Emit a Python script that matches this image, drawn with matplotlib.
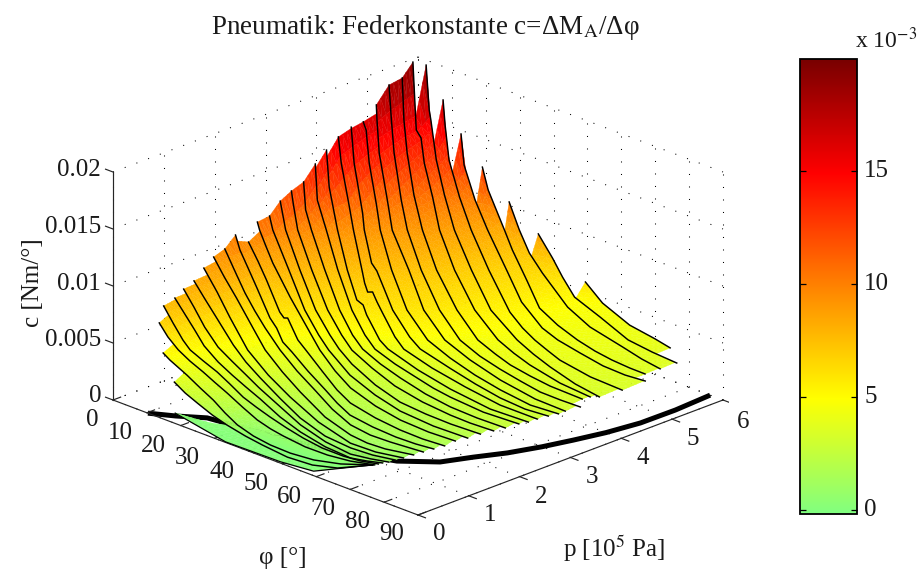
import numpy as np, matplotlib
matplotlib.use('Agg')
import matplotlib.pyplot as plt
from matplotlib.colors import LinearSegmentedColormap, Normalize
from matplotlib.cm import ScalarMappable
from mpl_toolkits.mplot3d import proj3d
from mpl_toolkits.mplot3d.art3d import Poly3DCollection
plt.rcParams['font.family']=['Liberation Serif','DejaVu Serif']
plt.rcParams['mathtext.fontset']='stix'

# measured curves: phi [deg], p [1e5 Pa], c [1e-3 Nm/deg]
phi_01=[18.1,21.3,24.9,29.0,32.3,36.2,39.9,48.3,55.1,60.0,66.9]
p_01=[0.00,0.00,0.00,0.02,0.09,0.19,0.28,0.21,0.25,0.42,0.65]
c_01=[3.60,3.00,2.52,1.90,1.27,0.58,0.05,0.05,0.05,0.05,0.71]
phi_02=[11.8,14.1,18.8,22.9,26.6,30.1,33.4,37.1,41.5,47.2,53.4,59.7,66.9]
p_02=[0.20,0.18,0.20,0.19,0.20,0.20,0.22,0.29,0.33,0.34,0.39,0.50,0.65]
c_02=[5.11,4.78,3.96,3.30,2.64,1.89,1.19,0.51,0.15,0.06,0.07,0.24,0.71]
phi_03=[6.9,10.2,13.1,16.4,20.0,23.4,26.9,31.0,34.8,38.7,42.6,49.1,55.2,61.3,67.3]
p_03=[0.45,0.40,0.41,0.42,0.44,0.44,0.45,0.48,0.52,0.52,0.51,0.51,0.54,0.58,0.66]
c_03=[6.78,6.00,5.18,4.55,3.96,3.44,2.88,2.05,1.27,0.93,0.76,0.53,0.45,0.54,0.74]
phi_04=[4.9,8.7,12.1,14.2,17.8,21.6,25.5,29.4,32.5,36.5,41.6,47.0,52.7,58.7,63.5,67.8]
p_04=[0.67,0.60,0.57,0.57,0.59,0.61,0.60,0.60,0.65,0.66,0.64,0.61,0.60,0.62,0.64,0.70]
c_04=[7.67,6.73,5.65,5.03,4.43,3.85,3.25,2.54,1.93,1.48,1.14,0.90,0.69,0.61,0.69,0.81]
phi_05=[4.6,8.3,11.5,14.9,19.6,23.9,28.0,31.6,38.2,45.1,53.1,60.6,64.7,68.3]
p_05=[0.91,0.86,0.84,0.80,0.76,0.75,0.75,0.79,0.74,0.68,0.64,0.63,0.68,0.75]
c_05=[7.93,7.02,6.02,5.07,4.26,3.61,3.01,2.30,1.55,1.11,0.76,0.65,0.76,0.87]
phi_06=[3.6,7.8,11.9,16.6,21.0,25.5,29.4,36.2,43.5,52.1,59.7,64.9,69.2]
p_06=[1.15,1.07,1.01,0.96,0.94,0.92,0.91,0.88,0.79,0.71,0.69,0.74,0.81]
c_06=[8.20,7.24,6.03,4.89,4.18,3.50,2.85,1.97,1.36,0.97,0.79,0.87,0.95]
phi_07=[2.9,7.3,11.4,17.8,22.7,27.7,34.6,41.9,50.6,58.3,64.3,69.9]
p_07=[1.40,1.32,1.28,1.18,1.10,1.05,0.99,0.89,0.80,0.79,0.82,0.90]
c_07=[8.42,7.47,6.32,4.84,4.03,3.28,2.31,1.62,1.16,1.00,1.00,1.05]
phi_08=[1.3,7.0,12.4,20.4,28.1,35.6,45.9,57.0,64.0,70.7]
p_08=[1.70,1.58,1.47,1.29,1.18,1.11,0.98,0.87,0.90,1.00]
c_08=[8.86,7.61,6.19,4.50,3.36,2.39,1.57,1.14,1.10,1.16]
phi_09=[0.3,4.8,9.6,17.5,22.4,29.3,35.9,45.8,54.8,60.0,64.9,71.6]
p_09=[1.96,1.87,1.79,1.63,1.50,1.38,1.29,1.12,1.02,1.00,1.03,1.14]
c_09=[9.28,8.18,7.01,5.19,4.38,3.42,2.56,1.75,1.36,1.27,1.25,1.29]
phi_10=[0.3,4.6,9.4,13.5,17.9,24.4,30.9,37.5,44.9,52.1,58.4,63.8,72.5]
p_10=[2.18,2.09,1.97,1.89,1.80,1.66,1.56,1.47,1.32,1.20,1.17,1.20,1.27]
c_10=[9.62,8.32,7.13,6.15,5.30,4.33,3.39,2.61,2.01,1.64,1.50,1.45,1.43]
phi_11=[0.3,1.3,5.2,9.2,16.6,19.5,23.1,26.4,32.3,39.0,44.1,49.4,56.5,63.3,68.8,73.5]
p_11=[2.39,2.41,2.31,2.21,1.98,1.92,1.80,1.76,1.68,1.58,1.47,1.37,1.34,1.34,1.37,1.41]
c_11=[10.49,9.26,8.28,7.23,5.74,5.26,4.65,4.21,3.34,2.59,2.20,1.91,1.72,1.60,1.55,1.57]
phi_12=[0.7,4.8,9.0,16.8,18.5,19.0,24.7,28.4,34.1,40.6,46.2,54.5,62.1,68.5,74.6]
p_12=[2.62,2.53,2.42,2.16,2.13,2.17,1.99,1.93,1.84,1.70,1.59,1.53,1.51,1.52,1.55]
c_12=[9.53,8.48,7.46,5.97,5.69,5.67,4.69,4.15,3.27,2.58,2.24,1.96,1.79,1.71,1.73]
phi_13=[0.3,0.5,3.1,6.8,15.2,23.3,29.7,35.7,42.2,51.2,59.3,67.6,75.2]
p_13=[2.82,2.85,2.80,2.69,2.47,2.26,2.09,1.99,1.86,1.75,1.70,1.70,1.72]
c_13=[10.90,10.18,9.15,8.26,6.59,5.22,4.19,3.20,2.66,2.27,2.03,1.91,1.94]
phi_14=[0.3,1.1,9.9,19.7,26.5,30.8,38.7,48.1,56.7,66.8,76.6]
p_14=[3.06,3.07,2.80,2.46,2.28,2.19,2.08,1.95,1.87,1.85,1.87]
c_14=[11.03,9.88,7.81,5.96,4.84,4.15,3.03,2.55,2.24,2.09,2.10]
phi_15=[0.3,2.5,11.2,21.1,28.0,31.9,36.9,45.3,54.1,61.8,69.3,77.8]
p_15=[3.27,3.23,2.93,2.58,2.40,2.32,2.24,2.14,2.04,2.03,2.02,2.04]
c_15=[11.98,9.76,7.74,5.92,4.81,4.16,3.52,2.80,2.45,2.29,2.27,2.30]
phi_16=[0.3,0.9,3.8,12.6,22.7,29.7,34.2,40.9,48.7,57.7,66.7,72.7,79.3]
p_16=[3.49,3.49,3.38,3.07,2.71,2.52,2.42,2.37,2.30,2.24,2.19,2.18,2.20]
c_16=[12.50,11.34,9.66,7.66,5.88,4.78,4.14,3.40,2.82,2.53,2.47,2.46,2.48]
phi_17=[0.3,2.4,5.3,14.2,24.3,31.4,35.7,41.4,47.3,55.9,64.3,72.5,80.5]
p_17=[3.73,3.63,3.55,3.22,2.84,2.62,2.53,2.50,2.50,2.42,2.35,2.33,2.35]
c_17=[12.89,10.84,9.54,7.59,5.83,4.81,4.22,3.60,3.03,2.73,2.65,2.63,2.62]
phi_18=[0.3,3.0,7.0,15.8,26.1,33.4,37.7,43.8,50.0,55.6,61.4,71.9,81.5]
p_18=[3.96,3.82,3.73,3.37,2.96,2.73,2.64,2.63,2.65,2.59,2.54,2.49,2.55]
c_18=[14.08,11.45,9.42,7.51,5.84,4.85,4.25,3.64,3.08,2.93,2.87,2.81,2.75]
phi_19=[0.6,3.5,8.2,17.1,24.7,26.7,29.4,36.7,39.7,48.6,59.2,72.3,82.5]
p_19=[4.16,4.02,3.87,3.47,3.15,3.14,3.03,2.80,2.76,2.76,2.69,2.60,2.67]
c_19=[15.00,12.31,9.33,7.48,6.25,6.05,5.66,4.67,4.29,3.44,3.07,2.94,2.82]
phi_20=[1.1,3.3,6.3,10.2,19.6,22.2,24.6,25.3,28.1,31.1,38.5,42.3,50.8,61.5,73.0,83.0]
p_20=[4.36,4.27,4.23,4.05,3.60,3.47,3.37,3.42,3.32,3.22,2.98,2.90,2.89,2.83,2.75,2.81]
c_20=[15.87,13.98,10.53,9.25,7.36,6.92,6.56,6.56,6.17,5.79,4.84,4.33,3.64,3.28,3.11,2.91]
phi_21=[1.0,4.1,8.1,11.6,19.0,21.3,26.6,32.3,40.9,44.9,53.9,62.5,70.9,78.1,83.9]
p_21=[4.62,4.47,4.37,4.17,3.82,3.77,3.57,3.35,3.11,3.05,3.03,2.96,2.89,2.90,2.97]
c_21=[16.28,13.73,9.96,9.20,7.72,7.37,6.63,5.87,4.88,4.38,3.75,3.44,3.27,3.08,3.00]
phi_22=[1.1,2.1,5.1,8.9,13.6,23.1,34.4,44.1,51.5,60.0,68.6,77.7,84.8]
p_22=[4.85,4.84,4.70,4.59,4.35,3.94,3.49,3.25,3.20,3.12,3.05,3.03,3.11]
c_22=[16.37,15.77,13.47,10.39,9.13,7.38,5.88,4.74,4.07,3.67,3.44,3.17,3.06]
phi_23=[0.3,1.7,4.9,9.7,15.2,25.5,36.8,46.3,55.1,65.7,76.6,85.0]
p_23=[5.16,5.08,4.91,4.75,4.48,4.12,3.66,3.44,3.35,3.24,3.20,3.23]
c_23=[17.24,16.21,13.97,10.64,9.07,7.34,5.86,4.67,4.06,3.67,3.29,3.12]
phi_24=[0.3,2.5,6.0,11.1,17.1,27.2,38.6,48.4,55.6,62.4,68.9,75.2,80.7,86.0]
p_24=[5.41,5.31,5.13,4.93,4.65,4.25,3.85,3.60,3.51,3.45,3.42,3.39,3.42,3.46]
c_24=[18.57,15.92,13.71,10.50,9.01,7.30,5.75,4.63,4.18,3.91,3.64,3.43,3.30,3.21]
phi_25=[0.3,3.2,7.0,12.0,19.0,28.9,40.6,50.8,57.3,62.6,68.8,74.8,83.7]
p_25=[5.67,5.51,5.32,5.12,4.82,4.44,4.06,3.79,3.70,3.64,3.62,3.61,3.65]
c_25=[18.75,15.65,13.50,10.72,8.94,7.17,5.62,4.59,4.24,3.98,3.73,3.54,3.33]
phi_26=[0.3,2.6,4.9,6.3,9.8,14.2,20.9,30.9,42.7,53.6,59.6,65.4,75.4,84.1]
p_26=[5.88,5.77,5.64,5.64,5.47,5.34,5.03,4.66,4.27,4.00,3.91,3.84,3.77,3.78]
c_26=[19.79,16.28,14.75,14.21,12.69,10.43,8.80,7.02,5.50,4.56,4.22,3.95,3.59,3.34]
phi_27=[3.6,4.5,5.6,10.8,15.3,22.6,32.7,44.6,56.1,62.5,68.8,77.9,85.3]
p_27=[5.92,5.92,5.88,5.64,5.50,5.21,4.87,4.46,4.21,4.10,4.01,3.90,3.88]
c_27=[19.83,16.00,15.30,12.79,10.46,8.68,6.89,5.39,4.48,4.15,3.88,3.58,3.31]
phi_28=[8.6,9.2,12.3,17.2,24.4,34.7,47.2,53.2,58.5,63.6,68.1,77.7,86.2]
p_28=[5.92,5.92,5.79,5.67,5.42,5.08,4.66,4.51,4.40,4.32,4.25,4.21,4.27]
c_28=[17.33,15.20,12.70,10.20,8.53,6.75,5.17,4.70,4.41,4.17,3.99,3.66,3.35]
phi_29=[13.9,14.8,19.4,26.1,36.8,46.0,55.7,61.5,68.7,75.9,81.8,86.4]
p_29=[5.92,5.92,5.83,5.63,5.29,4.97,4.73,4.65,4.61,4.58,4.62,4.71]
c_29=[14.94,12.32,9.91,8.37,6.63,5.40,4.61,4.34,4.07,3.80,3.59,3.43]
phi_30=[20.2,21.9,27.9,32.8,41.5,49.2,56.8,64.2,70.1,75.2,80.2,84.1]
p_30=[5.92,5.92,5.84,5.67,5.37,5.11,4.96,4.86,4.81,4.80,4.82,4.86]
c_30=[12.74,10.93,8.23,7.30,6.16,4.99,4.60,4.28,4.06,3.87,3.69,3.54]
phi_31=[28.1,31.1,35.7,41.8,52.4,61.7,72.6,78.9,84.5]
p_31=[5.92,5.92,5.81,5.66,5.45,5.27,5.19,5.14,5.13]
c_31=[10.57,8.45,7.13,6.31,4.86,4.46,4.05,3.80,3.58]
phi_32=[36.7,40.9,44.9,50.1,59.8,71.0,78.1,84.9]
p_32=[5.92,5.92,5.85,5.74,5.59,5.40,5.40,5.43]
c_32=[8.73,7.08,5.98,4.99,4.60,4.15,3.88,3.63]
phi_33=[50.6,55.8,66.5,74.3,79.2]
p_33=[5.92,5.91,5.73,5.71,5.68]
c_33=[6.07,4.82,4.39,4.09,3.90]
flap_hi_phi=[15.2,24.3,32.5,46.5,64.6]
flap_hi_p=[.21,.3,.56,.61,.8]
flap_hi_c=[.2,.2,.2,.2,.2]
flap_lo_phi=[15.2,33.2,49.1,57.9,64.6]
flap_lo_p=[.21,0,.02,.087,.8]
flap_lo_c=[.2,.05,.05,.1,.2]
thick_phi=[10.3,15.5,20.9,32,49.3,65.8,72.5,75.5,78.9,81.6,83.6,85.5,86.8,86.9,86.2]
thick_p=[0,.2,.46,.57,.785,1.2,1.6,2.05,2.5,3,3.48,4.0,4.59,5.27,6.0]
z_ticks=[0,.005,.01,.015,.02]
z_labels=['0','0.005','0.01','0.015','0.02']
phi_ticks=[0,10,20,30,40,50,60,70,80,90]
p_ticks=[0,1,2,3,4,5,6]
cbar_ticks=[0,5,10,15]

g=globals()
curves=[tuple(np.array(g[f'{n}_{i:02d}'],float) for n in ('phi','p','c')) for i in range(1,34)]
flap_hi=tuple(np.array(v,float) for v in (flap_hi_phi,flap_hi_p,flap_hi_c))
flap_lo=tuple(np.array(v,float) for v in (flap_lo_phi,flap_lo_p,flap_lo_c))

W,H=923,579
fig=plt.figure(figsize=(W/100,H/100),dpi=100)
ax=fig.add_axes([0,0,1,1],projection='3d',proj_type='ortho',computed_zorder=False)
ax.set_xlim(0,90,view_margin=0);ax.set_ylim(0,6,view_margin=0);ax.set_zlim(0,.02,view_margin=0)
ax.view_init(elev=22.15,azim=-45);ax.set_axis_off()
def px(a,b,c):
    xs,ys,_=proj3d.proj_transform(a,b,c,ax.get_proj())
    return ax.transData.transform((xs,ys))
Lb,Bb,S,za=0.,0.,600.,.571
for _ in range(4):
    ax.set_box_aspect((1,1,za))
    ax.set_position([Lb/W,Bb/H,S/W,S/H]);ax.apply_aspect()
    l=px(0,0,0);r=px(90,6,0);t=px(0,0,.02)
    S*=610/(r[0]-l[0]); za*=228/(t[1]-l[1])*(r[0]-l[0])/610
    ax.set_box_aspect((1,1,za))
    ax.set_position([Lb/W,Bb/H,S/W,S/H]);ax.apply_aspect()
    l=px(0,0,0)
    Lb+=113-l[0];Bb+=(H-400)-l[1]
ax.set_position([Lb/W,Bb/H,S/W,S/H]);ax.apply_aspect()

cols=[(128,255,128),(255,255,0),(255,128,0),(255,0,0),(120,0,0)]
vals=[-.17,4.9,10,14.9,19.95]
cmap=LinearSegmentedColormap.from_list('m',[((v-vals[0])/(vals[-1]-vals[0]),tuple(k/255 for k in c)) for v,c in zip(vals,cols)],N=512)
norm=Normalize(vals[0],vals[-1])

dot=dict(color='k',lw=.75,ls=(0,(1,11)),zorder=1)
for v in phi_ticks:
    ax.plot([v,v],[6,6],[0,.02],**dot);ax.plot([v,v],[0,6],[0,0],**dot)
for v in p_ticks:
    ax.plot([0,0],[v,v],[0,.02],**dot);ax.plot([0,90],[v,v],[0,0],**dot)
for v in z_ticks:
    ax.plot([0,90],[6,6],[v,v],**dot);ax.plot([0,0],[0,6],[v,v],**dot)
ax.plot(thick_phi,thick_p,[0]*len(thick_p),color='k',lw=3.6,zorder=2,solid_capstyle='butt')
ax_k=dict(color='#262626',lw=.85,zorder=3)
ax.plot([0,0],[0,0],[0,.02],**ax_k);ax.plot([0,90],[0,0],[0,0],**ax_k);ax.plot([90,90],[0,6],[0,0],**ax_k)
for v in phi_ticks: ax.plot([v,v],[0,.15],[0,0],**ax_k)
for v in p_ticks: ax.plot([90,92.2],[v,v],[0,0],**ax_k)
for v in z_ticks: ax.plot([0,-2.2],[0,0],[v,v],**ax_k)

tri=[];tc=[]
def strip(A,B):
    a0=max(A[0][0],B[0][0]);a1=min(A[0][-1],B[0][-1])
    if a1<=a0: return
    f=np.unique(np.r_[np.arange(a0,a1,1.6),a1])
    pa,ca=np.interp(f,A[0],A[1]),np.interp(f,A[0],A[2])
    pb,cb=np.interp(f,B[0],B[1]),np.interp(f,B[0],B[2])
    n=3
    for j in range(len(f)-1):
        for k in range(n):
            t0,t1=k/n,(k+1)/n
            q=[(f[j],pa[j]+(pb[j]-pa[j])*t0,ca[j]+(cb[j]-ca[j])*t0),
               (f[j+1],pa[j+1]+(pb[j+1]-pa[j+1])*t0,ca[j+1]+(cb[j+1]-ca[j+1])*t0),
               (f[j+1],pa[j+1]+(pb[j+1]-pa[j+1])*t1,ca[j+1]+(cb[j+1]-ca[j+1])*t1),
               (f[j],pa[j]+(pb[j]-pa[j])*t1,ca[j]+(cb[j]-ca[j])*t1)]
            for w in ([q[0],q[1],q[2]],[q[0],q[2],q[3]]):
                tri.append([(a,b,c/1000) for a,b,c in w]);tc.append(np.mean([x[2] for x in w]))
for A,B in zip(curves[:-1],curves[1:]): strip(A,B)
strip(flap_lo,flap_hi)
fc=cmap(norm(np.array(tc)))
pc=Poly3DCollection(tri,facecolors=fc,edgecolors=fc,linewidths=.25,zorder=4)
ax.add_collection3d(pc,autolim=False)
for F,P,C in curves:
    ax.plot(F,P,C/1000,color='k',lw=1.05,zorder=5,solid_joinstyle='round')
ax.plot(flap_lo[0],flap_lo[1],flap_lo[2]/1000,color='k',lw=.9,zorder=5)

def T_(x,y,s,**k):
    k.setdefault('ha','center');k.setdefault('va','center');k.setdefault('fontsize',18)
    fig.text(x/W,1-y/H,s,color='#1a1a1a',**k)
for s,y in zip(z_labels,[396,340,284,227,170]): T_(101,y,s,ha='right')
for v,(x,y) in zip(phi_ticks,[(92,420),(120,433),(153,446),(187,458),(222,472),(256,484),(289,497),(323,509),(357,522),(392,534)]): T_(x,y,str(v))
for v,(x,y) in zip(p_ticks,[(439,534),(490,515),(541,497),(592,477),(643,458),(693,439),(743,422)]): T_(x,y,str(v))
T_(283,558,'φ [°]');T_(614,549,'p [10$^{5}$ Pa]')
T_(33,283,'c [Nm/°]',rotation=90)
T_(425,28,'Pneumatik: Federkonstante c=ΔM$_{\\mathrm{A}}$/Δφ',fontsize=19.5)
cax=fig.add_axes([800/W,1-514/H,57/W,455/H])
cb=fig.colorbar(ScalarMappable(norm,cmap),cax=cax,ticks=cbar_ticks)
cb.ax.tick_params(direction='in',left=True,right=True,length=4,width=.9,labelright=False)
cb.outline.set_linewidth(1.3)
for v,y in zip(cbar_ticks,[510,397,284,171]): T_(864,y,str(v),ha='left')
T_(886,40,'x 10$^{-3}$',fontsize=17)
fig.savefig('out.png',dpi=100)
